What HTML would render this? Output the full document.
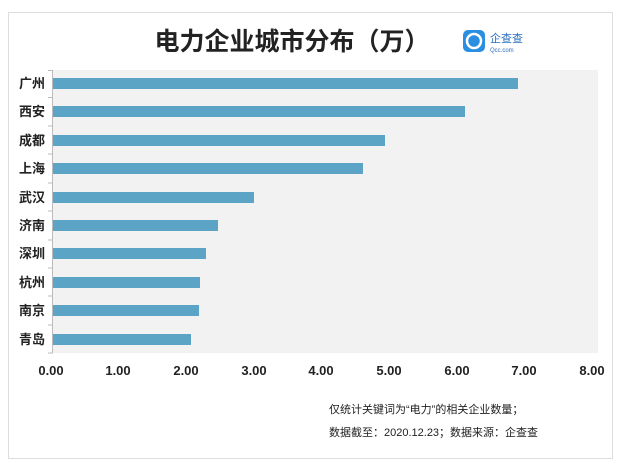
<!DOCTYPE html>
<html><head><meta charset="utf-8"><style>
body{margin:0;background:#fff;width:619px;height:471px;overflow:hidden;font-family:"Liberation Sans","Noto Sans CJK SC",sans-serif}
</style></head><body>
<svg width="619" height="471" xmlns="http://www.w3.org/2000/svg" font-family="Liberation Sans, Noto Sans CJK SC, sans-serif">
<rect x="8.5" y="12.5" width="604" height="446" fill="#fff" stroke="#ddd"/>
<text x="292" y="50" font-size="25" font-weight="bold" text-anchor="middle" fill="#222">电力企业城市分布（万）</text>
<rect x="463" y="30" width="22" height="22" rx="5" fill="#2a8fe0"/>
<circle cx="474" cy="41" r="7" fill="none" stroke="#fff" stroke-width="2.5"/>
<text x="490" y="42" font-size="11" fill="#2a6fc0">企查查</text>
<text x="490" y="52" font-size="6" fill="#2a6fc0">Qcc.com</text>
<rect x="53" y="70" width="545" height="283" fill="#f2f2f2"/>
<line x1="52.5" y1="70" x2="52.5" y2="353" stroke="#bbb"/>
<g stroke="#bbb">
<line x1="48" y1="70.5" x2="53" y2="70.5"/><line x1="48" y1="97.5" x2="53" y2="97.5"/><line x1="48" y1="126" x2="53" y2="126"/><line x1="48" y1="154" x2="53" y2="154"/><line x1="48" y1="183" x2="53" y2="183"/><line x1="48" y1="211" x2="53" y2="211"/><line x1="48" y1="240" x2="53" y2="240"/><line x1="48" y1="268" x2="53" y2="268"/><line x1="48" y1="296" x2="53" y2="296"/><line x1="48" y1="325" x2="53" y2="325"/><line x1="48" y1="353" x2="53" y2="353"/>
</g>
<g fill="#5ba4c6">
<rect x="53" y="78" width="465" height="11"/>
<rect x="53" y="106" width="412" height="11"/>
<rect x="53" y="135" width="332" height="11"/>
<rect x="53" y="163" width="310" height="11"/>
<rect x="53" y="192" width="201" height="11"/>
<rect x="53" y="220" width="165" height="11"/>
<rect x="53" y="248" width="153" height="11"/>
<rect x="53" y="277" width="147" height="11"/>
<rect x="53" y="305" width="146" height="11"/>
<rect x="53" y="334" width="138" height="11"/>
</g>
<g font-size="13" font-weight="bold" fill="#222" text-anchor="end">
<text x="45" y="88">广州</text><text x="45" y="116">西安</text><text x="45" y="145">成都</text><text x="45" y="173">上海</text><text x="45" y="202">武汉</text><text x="45" y="230">济南</text><text x="45" y="258">深圳</text><text x="45" y="287">杭州</text><text x="45" y="315">南京</text><text x="45" y="344">青岛</text>
</g>
<g font-size="13" font-weight="bold" fill="#222" text-anchor="middle">
<text x="51" y="375">0.00</text><text x="118" y="375">1.00</text><text x="186" y="375">2.00</text><text x="254" y="375">3.00</text><text x="321" y="375">4.00</text><text x="389" y="375">5.00</text><text x="457" y="375">6.00</text><text x="524" y="375">7.00</text><text x="592" y="375">8.00</text>
</g>
<g font-size="11" fill="#222">
<text x="329" y="413">仅统计关键词为“电力”的相关企业数量；</text>
<text x="329" y="436">数据截至：2020.12.23；数据来源：企查查</text>
</g>
</svg>
</body></html>
